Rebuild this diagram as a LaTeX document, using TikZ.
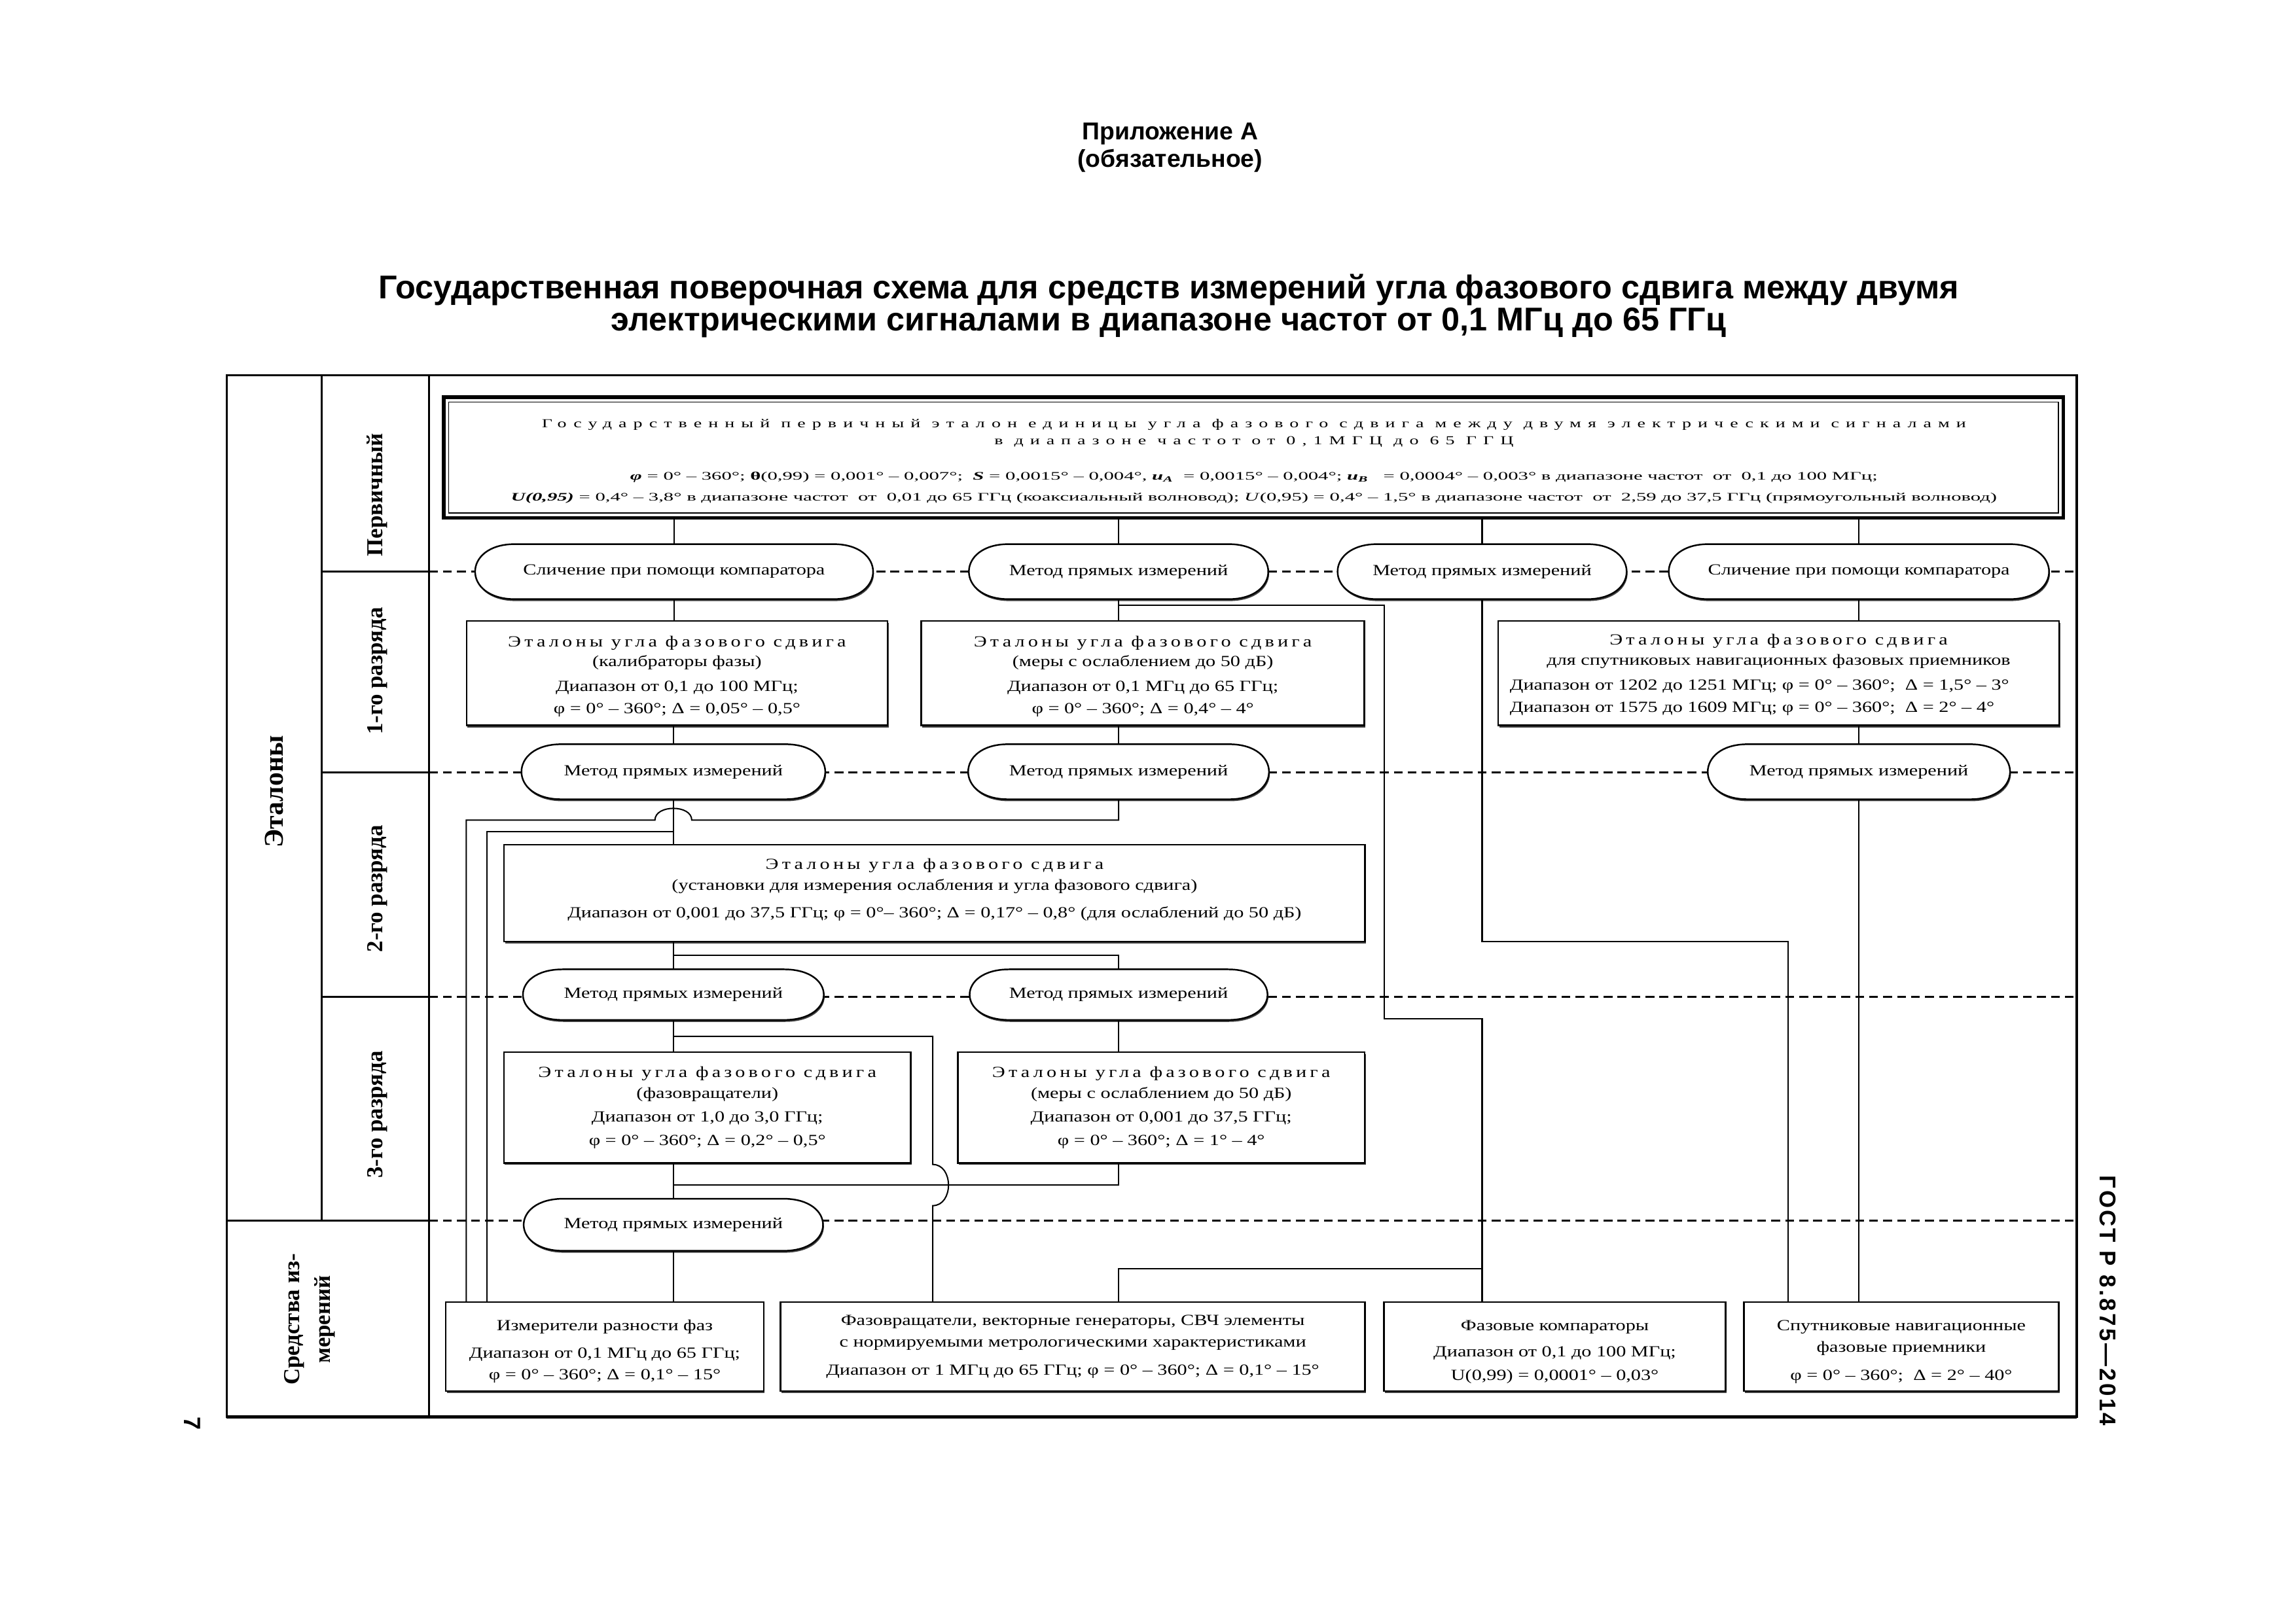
\documentclass[tikz,border=0pt]{standalone}
\usepackage{fontspec}
\setmainfont{Liberation Serif}
\newfontfamily\arialf{Liberation Sans}
\newfontfamily\gostf{Liberation Sans}[LetterSpace=10]
\newfontfamily\bodyf{Liberation Serif}[FakeStretch=1.28]
\newfontfamily\spacedf{Liberation Serif}[FakeStretch=1.28,LetterSpace=22]
\newfontfamily\primf{Liberation Serif}[FakeStretch=1.75]
\newfontfamily\primsp{Liberation Serif}[FakeStretch=1.5,LetterSpace=54]
\usetikzlibrary{shadows}
\newcommand\bsz{\bodyf\fontsize{10.5}{14.5}\selectfont}
\newcommand\topgap[1]{\rule{0pt}{#1}}
\newcommand\botgap[1]{\rule[-#1]{0pt}{#1}}
\newcommand\stadpath[3]{([xshift=27pt+#2,yshift=#3]#1.north west) -- ([xshift=-27pt+#2,yshift=#3]#1.north east) .. controls ([xshift=9pt+#2,yshift=#3]#1.north east) and ([xshift=9pt+#2,yshift=#3]#1.south east) .. ([xshift=-27pt+#2,yshift=#3]#1.south east) -- ([xshift=27pt+#2,yshift=#3]#1.south west) .. controls ([xshift=-9pt+#2,yshift=#3]#1.south west) and ([xshift=-9pt+#2,yshift=#3]#1.north west) .. cycle}
\newcommand\stad[6]{%
  \node[stadn, minimum width=#4pt, minimum height=#5pt] (#1) at (#2,#3) {};
  \fill[black!75] \stadpath{#1}{0.6pt}{-1.3pt};
  \filldraw[stadd] \stadpath{#1}{0pt}{0pt};
  \node[stadt] (#1t) at (#1) {#6};
}
\tikzset{
  conn/.style={line width=0.9pt},
  dashln/.style={line width=1.2pt, dash pattern=on 6pt off 3.5pt},
  boxn/.style={draw, line width=1.1pt, fill=white, inner sep=0pt, align=center, font=\bsz,
     drop shadow={shadow xshift=0.7pt, shadow yshift=-1.3pt, opacity=1, fill=black!75}},
  stadn/.style={inner sep=0pt},
  stadd/.style={draw, fill=white, line width=1.1pt},
  stadt/.style={inner sep=0pt, font=\bsz},
  labn/.style={font=\bfseries\fontsize{15.5}{21}\selectfont, rotate=90, align=center, inner sep=0pt},
  frm/.style={line width=1.6pt},
  hdr/.style={font=\arialf\bfseries\fontsize{16.6}{19}\selectfont, anchor=base},
  ttl/.style={font=\arialf\bfseries\fontsize{22.4}{25}\selectfont, anchor=base},
  prs/.style={font=\primsp\fontsize{8.3}{9}\selectfont, inner sep=0pt},
  prt/.style={font=\primf\fontsize{7.8}{9}\selectfont, inner sep=0pt},
}
\begin{document}
\begin{tikzpicture}[x=1pt,y=-1pt]
\useasboundingbox (0,0) rectangle (1560,1103.3);
% header
\node[hdr] (app1) at (795,95) {Приложение А};
\node[hdr] (app2) at (795,113.5) {(обязательное)};
\node[ttl] (tl1) at (794,203) {Государственная поверочная схема для средств измерений угла фазового сдвига между двумя};
\node[ttl] (tl2) at (794,225) {электрическими сигналами в диапазоне частот от 0,1 МГц до 65 ГГц};
% dashed level lines
\draw[dashln] (291.5,388.5) -- (1411,388.5);
\draw[dashln] (291.5,525) -- (1411,525);
\draw[dashln] (291.5,677.5) -- (1411,677.5);
\draw[dashln] (291.5,829.5) -- (1411,829.5);
% frame
\draw[frm] (154,255) rectangle (1411,963);
\draw[line width=2.2pt] (154,963) -- (1411,963);
\draw[frm] (218.5,255) -- (218.5,829.5);
\draw[frm] (291.5,255) -- (291.5,963);
\draw[line width=1.1pt] (218.5,388.5) -- (291.5,388.5);
\draw[line width=1.1pt] (218.5,525) -- (291.5,525);
\draw[line width=1.1pt] (218.5,677.5) -- (291.5,677.5);
\draw[line width=1.1pt] (154,829.5) -- (291.5,829.5);
% left labels
\node[labn, font=\bfseries\fontsize{18.5}{22}\selectfont] (let) at (186.4,538) {Эталоны};
\node[labn] (lp) at (256.4,336.3) {Первичный};
\node[labn] (l1) at (256.4,456) {1-го разряда};
\node[labn] (l2) at (256.4,604) {2-го разряда};
\node[labn] (l3) at (256.4,757.5) {3-го разряда};
\node[labn] (lsi) at (210.5,896.7) {Средства из-\\мерений};
% primary standard
\node[draw, line width=2.4pt, fill=white, minimum width=1100.5pt, minimum height=82pt, inner sep=0pt,
  drop shadow={shadow xshift=0.7pt, shadow yshift=-1.3pt, opacity=1, fill=black!75}] (P) at (851.75,311) {};
\draw[line width=0.8pt] ([xshift=4.5pt,yshift=-4.5pt]P.north west) rectangle ([xshift=-4.5pt,yshift=4.5pt]P.south east);
\node[prs] (P1) at (852,288.5) {Государственный первичный эталон единицы угла фазового сдвига между двумя электрическими сигналами};
\node[prs] (P2) at (852,300.5) {в диапазоне частот от 0,1МГЦ до 65 ГГЦ};
\node[prt] (P3) at (852,324.5) {\textbf{\textit{φ}} = 0° – 360°; \textbf{θ}(0,99) = 0,001° – 0,007°;\ \ \textbf{\textit{S}} = 0,0015° – 0,004°, \textbf{\textit{u}}\textsubscript{\textbf{\textit{A}}}\ \ = 0,0015° – 0,004°; \textbf{\textit{u}}\textsubscript{\textbf{\textit{B}}}\ \ \ = 0,0004° – 0,003° в диапазоне частот\ \ от\ \ 0,1 до 100 МГц;};
\node[prt] (P4) at (852,338.5) {\textbf{\textit{U(0,95)}} = 0,4° – 3,8° в диапазоне частот\ \ от\ \ 0,01 до 65 ГГц (коаксиальный волновод); \textit{U}(0,95) = 0,4° – 1,5° в диапазоне частот\ \ от\ \ 2,59 до 37,5 ГГц (прямоугольный волновод)};
% method shapes
\stad{E1}{458}{388.5}{270}{37}{Сличение при помощи компаратора}
\stad{E2}{760}{388.5}{203}{37}{Метод прямых измерений}
\stad{E3}{1007}{388.5}{196}{37}{Метод прямых измерений}
\stad{E4}{1263}{388.5}{258}{37}{Сличение при помощи компаратора}
\stad{E5}{457.5}{524.5}{206}{37}{Метод прямых измерений}
\stad{E9}{760}{524.5}{204}{37}{Метод прямых измерений}
\stad{E6}{1263}{524.5}{205}{37}{Метод прямых измерений}
\stad{E7}{457.5}{676}{204}{34}{Метод прямых измерений}
\stad{E10}{760}{676}{202}{34}{Метод прямых измерений}
\stad{E8}{457.5}{832.4}{203}{35}{Метод прямых измерений}
% first rank
\node[boxn, minimum width=286pt, minimum height=71pt] (B1) at (460,457.5) {\topgap{11.5pt}{\spacedf Эталоны угла фазового сдвига}\\[-1pt](калибраторы фазы)\\[2.5pt]Диапазон от 0,1 до 100 МГц;\\[0.5pt]φ = 0° – 360°; Δ = 0,05° – 0,5°};
\node[boxn, minimum width=301pt, minimum height=71pt] (B2) at (776.5,457.5) {\topgap{11.5pt}{\spacedf Эталоны угла фазового сдвига}\\[-1pt](меры с ослаблением до 50 дБ)\\[2.5pt]Диапазон от 0,1 МГц до 65 ГГц;\\[0.5pt]φ = 0° – 360°; Δ = 0,4° – 4°};
\node[boxn, minimum width=381pt, minimum height=71pt] (B3) at (1208.5,457.5) {\topgap{12pt}{\spacedf Эталоны угла фазового сдвига}\\[-1pt]для спутниковых навигационных фазовых приемников\\[2.5pt]\begin{tabular}[t]{@{}l@{}}Диапазон от 1202 до 1251 МГц; φ = 0° – 360°;\ \ Δ = 1,5° – 3°\\[0.8pt]Диапазон от 1575 до 1609 МГц; φ = 0° – 360°;\ \ Δ = 2° – 4°\end{tabular}\hspace*{26pt}};
% second rank
\node[boxn, minimum width=585pt, minimum height=66pt] (B6) at (635,607) {{\spacedf Эталоны угла фазового сдвига}\\[0pt](установки для измерения ослабления и угла фазового сдвига)\\[4pt]Диапазон от 0,001 до 37,5 ГГц; φ = 0°– 360°; Δ = 0,17° – 0,8° (для ослаблений до 50 дБ)\botgap{7pt}};
% third rank
\node[boxn, minimum width=276.5pt, minimum height=75.5pt] (B4) at (480.6,752.7) {{\spacedf Эталоны угла фазового сдвига}\\[-0.5pt](фазовращатели)\\[1.5pt]Диапазон от 1,0 до 3,0 ГГц;\\[1.5pt]φ = 0° – 360°; Δ = 0,2° – 0,5°};
\node[boxn, minimum width=276.5pt, minimum height=75.5pt] (B5) at (789,752.7) {{\spacedf Эталоны угла фазового сдвига}\\[-0.5pt](меры с ослаблением до 50 дБ)\\[1.5pt]Диапазон от 0,001 до 37,5 ГГц;\\[1.5pt]φ = 0° – 360°; Δ = 1° – 4°};
% measuring instruments
\node[boxn, minimum width=216pt, minimum height=60.5pt] (M1) at (410.9,915.2) {\topgap{14pt}Измерители разности фаз\\[4pt]Диапазон от 0,1 МГц до 65 ГГц;\\[0.5pt]φ = 0° – 360°; Δ = 0,1° – 15°};
\node[boxn, minimum width=397pt, minimum height=60.5pt] (M2) at (728.9,915.2) {Фазовращатели, векторные генераторы, СВЧ элементы\\[0pt]с нормируемыми метрологическими характеристиками\\[4.5pt]Диапазон от 1 МГц до 65 ГГц; φ = 0° – 360°; Δ = 0,1° – 15°};
\node[boxn, minimum width=232pt, minimum height=60.5pt] (M3) at (1056.4,915.2) {\topgap{14pt}Фазовые компараторы\\[3.5pt]Диапазон от 0,1 до 100 МГц;\\[1.5pt]U(0,99) = 0,0001° – 0,03°};
\node[boxn, minimum width=214pt, minimum height=60.5pt] (M4) at (1291.8,915.2) {\topgap{14pt}Спутниковые навигационные\\[0.5pt]фазовые приемники\\[4.5pt]φ = 0° – 360°;\ \ Δ = 2° – 40°};
% connectors
\draw[conn] (P.south -| E1.north) -- (E1.north);
\draw[conn] (P.south -| E2.north) -- (E2.north);
\draw[conn] (P.south -| E3.north) -- (E3.north);
\draw[conn] (P.south -| E4.north) -- (E4.north);
\draw[conn] (E1.south) -- (E1.south |- B1.north);
\draw[conn] (B1.south -| E5.north) -- (E5.north);
\draw[conn] (E2.south) -- (E2.south |- B2.north);
\draw[conn] (B2.south -| E9.north) -- (E9.north);
\draw[conn] (E4.south) -- (E4.south |- B3.north);
\draw[conn] (B3.south -| E6.north) -- (E6.north);
\draw[conn] (E6.south) -- (E6.south |- M4.north);
\coordinate (k3) at (1214.7,639.7);
\draw[conn] (E3.south) |- (k3) -- (k3 |- M4.north);
\coordinate (k2a) at (940.5,411.3);
\coordinate (k2b) at (1007,692.4);
\coordinate (k5) at (1007,862.3);
\draw[conn] (E2.south |- k2a) -- (k2a) |- (k2b) -- (k2b |- M3.north);
\draw[conn] (M2.north -| E10.south) |- (k5);
\draw[conn] (E5.south) -- (E5.south |- B6.north);
\coordinate (k6) at (330.9,565.3);
\draw[conn] (E5.south |- k6) -- (k6) -- (k6 |- M1.north);
\coordinate (k7) at (316.8,557.4);
\coordinate (j1) at (470,557.4);
\coordinate (j2) at (445,557.4);
\draw[conn] (E9.south) |- (j1) .. controls (470,546.7) and (445,546.7) .. (j2) -- (k7) -- (k7 |- M1.north);
\draw[conn] (B6.south -| E7.north) -- (E7.north);
\coordinate (k8) at (457.5,649.1);
\draw[conn] (k8) -| (E10.north);
\draw[conn] (E10.south) -- (E10.south |- B5.north);
\draw[conn] (E7.south) -- (E7.south |- B4.north);
\coordinate (k9) at (633.7,704.3);
\coordinate (j3) at (633.7,791.4);
\coordinate (j4) at (633.7,819.4);
\draw[conn] (E7.south |- k9) -- (k9) -- (j3) .. controls (648,791.4) and (648,819.4) .. (j4) -- (k9 |- M2.north);
\draw[conn] (B4.south -| E8.north) -- (E8.north);
\coordinate (k10) at (457.5,805.4);
\draw[conn] (B5.south -| E10.south) |- (k10);
\draw[conn] (E8.south) -- (E8.south |- M1.north);
% page marks
\node[font=\gostf\bfseries\fontsize{15.5}{18}\selectfont, rotate=-90, inner sep=0pt] (gost) at (1432,884) {ГОСТ Р 8.875—2014};
\node[font=\arialf\bfseries\fontsize{16}{18}\selectfont, rotate=-90, inner sep=0pt] (pg) at (130.8,967.5) {7};
\end{tikzpicture}
\end{document}
